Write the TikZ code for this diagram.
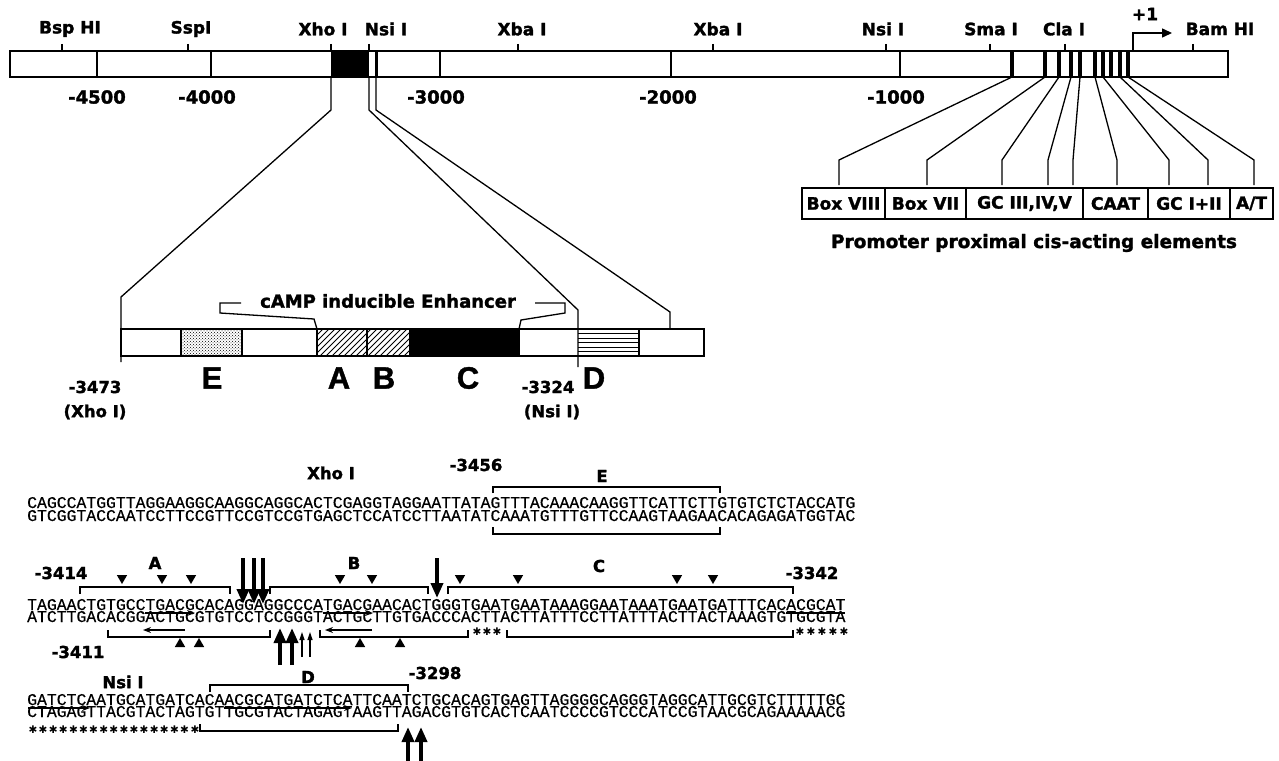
\documentclass[tikz,border=0pt]{standalone}
\usepackage{fontspec}
\setmainfont{DejaVu Sans}[BoldFeatures={FakeBold=1.6}]
\newfontfamily\seqfont{Liberation Mono}[FakeBold=0.4]
\newfontfamily\letfont{Liberation Sans}[BoldFeatures={FakeBold=1.2}]
\usetikzlibrary{arrows.meta, positioning, shapes.geometric, patterns}
\newcommand{\bsz}[1]{\fontsize{#1}{#1}\selectfont\bfseries}

\begin{document}
\begin{tikzpicture}[
  x=1pt, y=-1pt,
  every node/.style={inner sep=0pt},
  site/.style={font=\bsz{17}},
  num/.style={font=\bsz{18}},
  tag/.style={font=\bsz{16.5}},
  big/.style={font=\letfont\fontsize{31}{31}\selectfont\bfseries},
  pbox/.style={draw, line width=1.4pt, outer sep=0pt, minimum height=31pt, font=\bsz{17}},
  seq/.style={font=\seqfont\fontsize{16.43}{16}\selectfont, anchor=base west,
              text height=9.5pt, text depth=0pt},
  lnk/.style={line width=1.3pt},
  brk/.style={line width=1.4pt},
  dtri/.style={regular polygon, regular polygon sides=3, shape border rotate=180, fill, minimum size=12pt},
  utri/.style={regular polygon, regular polygon sides=3, fill, minimum size=12pt},
  bigarr/.style={line width=3.6pt, -{Triangle[length=15pt,width=12pt]}},
  thinarr/.style={line width=1.2pt, -{Triangle[length=8pt,width=5pt]}},
  ularr/.style={line width=1.2pt, -{Stealth[length=8pt,width=6pt]}},
  star/.style={font=\fontsize{10.5}{10}\selectfont}
]
\useasboundingbox (0,0) rectangle (1279,760);

% restriction map
\fill (331,51) rectangle (369,77);
\foreach \x in {97,211,440,671,900}
  \draw[line width=1.5pt] (\x,51) -- (\x,77);
\draw[line width=3pt] (376,51) -- (376,77);
\draw[line width=4pt] (1012,51) -- (1012,77);
\foreach \x in {1045,1059,1071,1080,1095,1103,1111,1120,1128}
  \draw[line width=3.5pt] (\x,51) -- (\x,77);
\node[draw, line width=2.6pt, outer sep=0pt, minimum width=1218pt, minimum height=26pt] (map) at (619,64) {};
\foreach \x/\lx/\t in {62/70/Bsp HI, 188/191/SspI, 331/323/Xho I, 369/386/Nsi I,
                       518/522/Xba I, 713/718/Xba I, 886/883/Nsi I, 990/991/Sma I,
                       1065/1064/Cla I, 1193/1220/Bam HI}{
  \draw[line width=1.5pt] (\x,44) -- (\x,51);
  \node[site] (site\x) at (\lx,29) {\t};
}
\foreach \x/\t in {97/-4500, 207/-4000, 436/-3000, 668/-2000, 896/-1000}
  \node[num] (num\x) at (\x,97) {\t};
\coordinate (tss) at (1133,51);
\draw[line width=1.5pt, -{Triangle[length=10pt,width=9pt]}] (tss) |- (1172,33);
\node[site] (plus1) at (1145,14) {+1};

% promoter elements
\foreach \s/\t in {1012/839, 1045/927, 1059/1002, 1071/1048, 1080/1073,
                   1095/1117, 1103/1169, 1120/1208, 1128/1254}
  \draw[lnk] (\s,77) -- (\t,160) -- (\t,185);
\node[pbox, minimum width=83pt] (b8) at (843.5,203.5) {Box VIII};
\node[pbox, minimum width=81pt, right=0pt of b8] (b7) {Box VII};
\node[pbox, minimum width=117pt, right=0pt of b7] (gc3) {GC III,IV,V};
\node[pbox, minimum width=65pt, right=0pt of gc3] (caat) {CAAT};
\node[pbox, minimum width=82pt, right=0pt of caat] (gc12) {GC I+II};
\node[pbox, minimum width=43pt, right=0pt of gc12] (at) {A/T};
\node[font=\bsz{18.5}] (ptitle) at (1034,243) {Promoter proximal cis-acting elements};

% enhancer fragment
\fill[pattern=crosshatch dots] (181,329) rectangle (242,356);
\begin{scope}
  \clip (317,329) rectangle (410,356);
  \foreach \i in {0,...,21}
    \draw[line width=1pt] ({290+6*\i},356) -- ++(27,-27);
\end{scope}
\fill (410,329) rectangle (519,356);
\foreach \y in {333.5,338,342.5,347,351.5}
  \draw[line width=1pt] (578,\y) -- (639,\y);
\foreach \x in {181,242,317,367,410,519,639}
  \draw[line width=1.4pt] (\x,329) -- (\x,356);
\node[draw, line width=1.8pt, outer sep=0pt, minimum width=583pt, minimum height=27pt] (enh) at (412.5,342.5) {};
\draw[lnk] (331,77) -- (331,110) -- (121,297) -- (121,362);
\draw[lnk] (369,77) -- (369,110) -- (578,310) -- (578,367);
\draw[lnk] (376,77) -- (376,110) -- (670,312) -- (670,329);
\node[font=\bsz{18}] (camp) at (388,301) {cAMP inducible Enhancer};
\draw[lnk] (241,303) -- (220,303) -- (220,313) -- (314,319) -- (317,329);
\draw[lnk] (535,303) -- (565,303) -- (565,313) -- (521,320) -- (519,329);
\foreach \x/\t in {212/E, 339/A, 384/B, 468/C, 594/D}
  \node[big] (let\t) at (\x,378) {\t};
\node[tag] (xpos) at (95,387) {-3473};
\node[tag] (xsite) at (95,412) {(Xho I)};
\node[tag] (npos) at (548,387) {-3324};
\node[tag] (nsite) at (552,412) {(Nsi I)};

% sequence, first block
\node[seq] (s1t) at (27,508) {CAGCCATGGTTAGGAAGGCAAGGCAGGCACTCGAGGTAGGAATTATAGTTTACAAACAAGGTTCATTCTTGTGTCTCTACCATG};
\node[seq] (s1b) at (27,521) {GTCGGTACCAATCCTTCCGTTCCGTCCGTGAGCTCCATCCTTAATATCAAATGTTTGTTCCAAGTAAGAACACAGAGATGGTAC};
\node[tag] (xho) at (331,473) {Xho I};
\node[tag] (p3456) at (476,465) {-3456};
\node[tag] (bE) at (602,476) {E};
\draw[brk] (493,493) -- (493,487) -- (720,487) -- (720,493);
\draw[brk] (493,527) -- (493,534) -- (720,534) -- (720,527);

% sequence, second block
\node[seq] (s2t) at (27,610) {TAGAACTGTGCCTGACGCACAGGAGGCCCATGACGAACACTGGGTGAATGAATAAAGGAATAAATGAATGATTTCACACGCAT};
\node[seq] (s2b) at (27,622) {ATCTTGACACGGACTGCGTGTCCTCCGGGTACTGCTTGTGACCCACTTACTTATTTCCTTATTTACTTACTAAAGTGTGCGTA};
\node[tag] (p3414) at (61,573) {-3414};
\node[tag] (p3342) at (812,573) {-3342};
\node[tag] (p3411) at (78,652) {-3411};
\node[tag] (bA) at (155,563) {A};
\node[tag] (bB) at (354,563) {B};
\node[tag] (bC) at (599,566) {C};
\foreach \x in {122,162,191,340,372,460,518,677,713}
  \node[dtri] (dt\x) at (\x,578) {};
\foreach \x in {180,199,360,400}
  \node[utri] (ut\x) at (\x,644) {};
\draw[brk] (80,594) -- (80,587) -- (230,587) -- (230,594);
\draw[brk] (270,594) -- (270,587) -- (428,587) -- (428,594);
\draw[brk] (448,594) -- (448,587) -- (793,587) -- (793,594);
\draw[brk] (108,630) -- (108,637) -- (270,637) -- (270,630);
\draw[brk] (320,630) -- (320,637) -- (468,637) -- (468,630);
\draw[brk] (507,630) -- (507,637) -- (793,637) -- (793,630);
\draw[ularr] (145,613) -- (195,613);
\draw[ularr] (323,613) -- (373,613);
\draw[ularr] (185,630) -- (143,630);
\draw[ularr] (372,630) -- (325,630);
\draw[line width=1.2pt] (786,613) -- (845,613);
\foreach \x in {243,254,263}
  \draw[bigarr] (\x,558) -- (\x,604);
\draw[bigarr] (437,558) -- (437,598);
\foreach \x in {280,292}
  \draw[bigarr] (\x,665) -- (\x,628);
\foreach \x in {302,310}
  \draw[thinarr] (\x,657) -- (\x,632);
\foreach \x in {477,487,497,800,811,822,833,844}
  \node[star] (st\x) at (\x,632) {✱};

% sequence, third block
\node[seq] (s3t) at (27,705) {GATCTCAATGCATGATCACAACGCATGATCTCATTCAATCTGCACAGTGAGTTAGGGGCAGGGTAGGCATTGCGTCTTTTTGC};
\node[seq] (s3b) at (27,717) {CTAGAGTTACGTACTAGTGTTGCGTACTAGAGTAAGTTAGACGTGTCACTCAATCCCCGTCCCATCCGTAACGCAGAAAAACG};
\node[tag] (nsi) at (123,682) {Nsi I};
\node[tag] (bD) at (308,677) {D};
\node[tag] (p3298) at (435,673) {-3298};
\draw[brk] (210,692) -- (210,685) -- (408,685) -- (408,692);
\draw[brk] (200,724) -- (200,731) -- (398,731) -- (398,724);
\draw[ularr] (28,708) -- (90,708);
\draw[ularr] (224,708) -- (352,708);
\foreach \i in {0,...,15}
  \node[star] (sb\i) at ({33+10.1*\i},730) {✱};
\node[star] (sb16) at (195,730) {✱};
\foreach \x in {408,421}
  \draw[bigarr] (\x,762) -- (\x,727);
\end{tikzpicture}
\end{document}
